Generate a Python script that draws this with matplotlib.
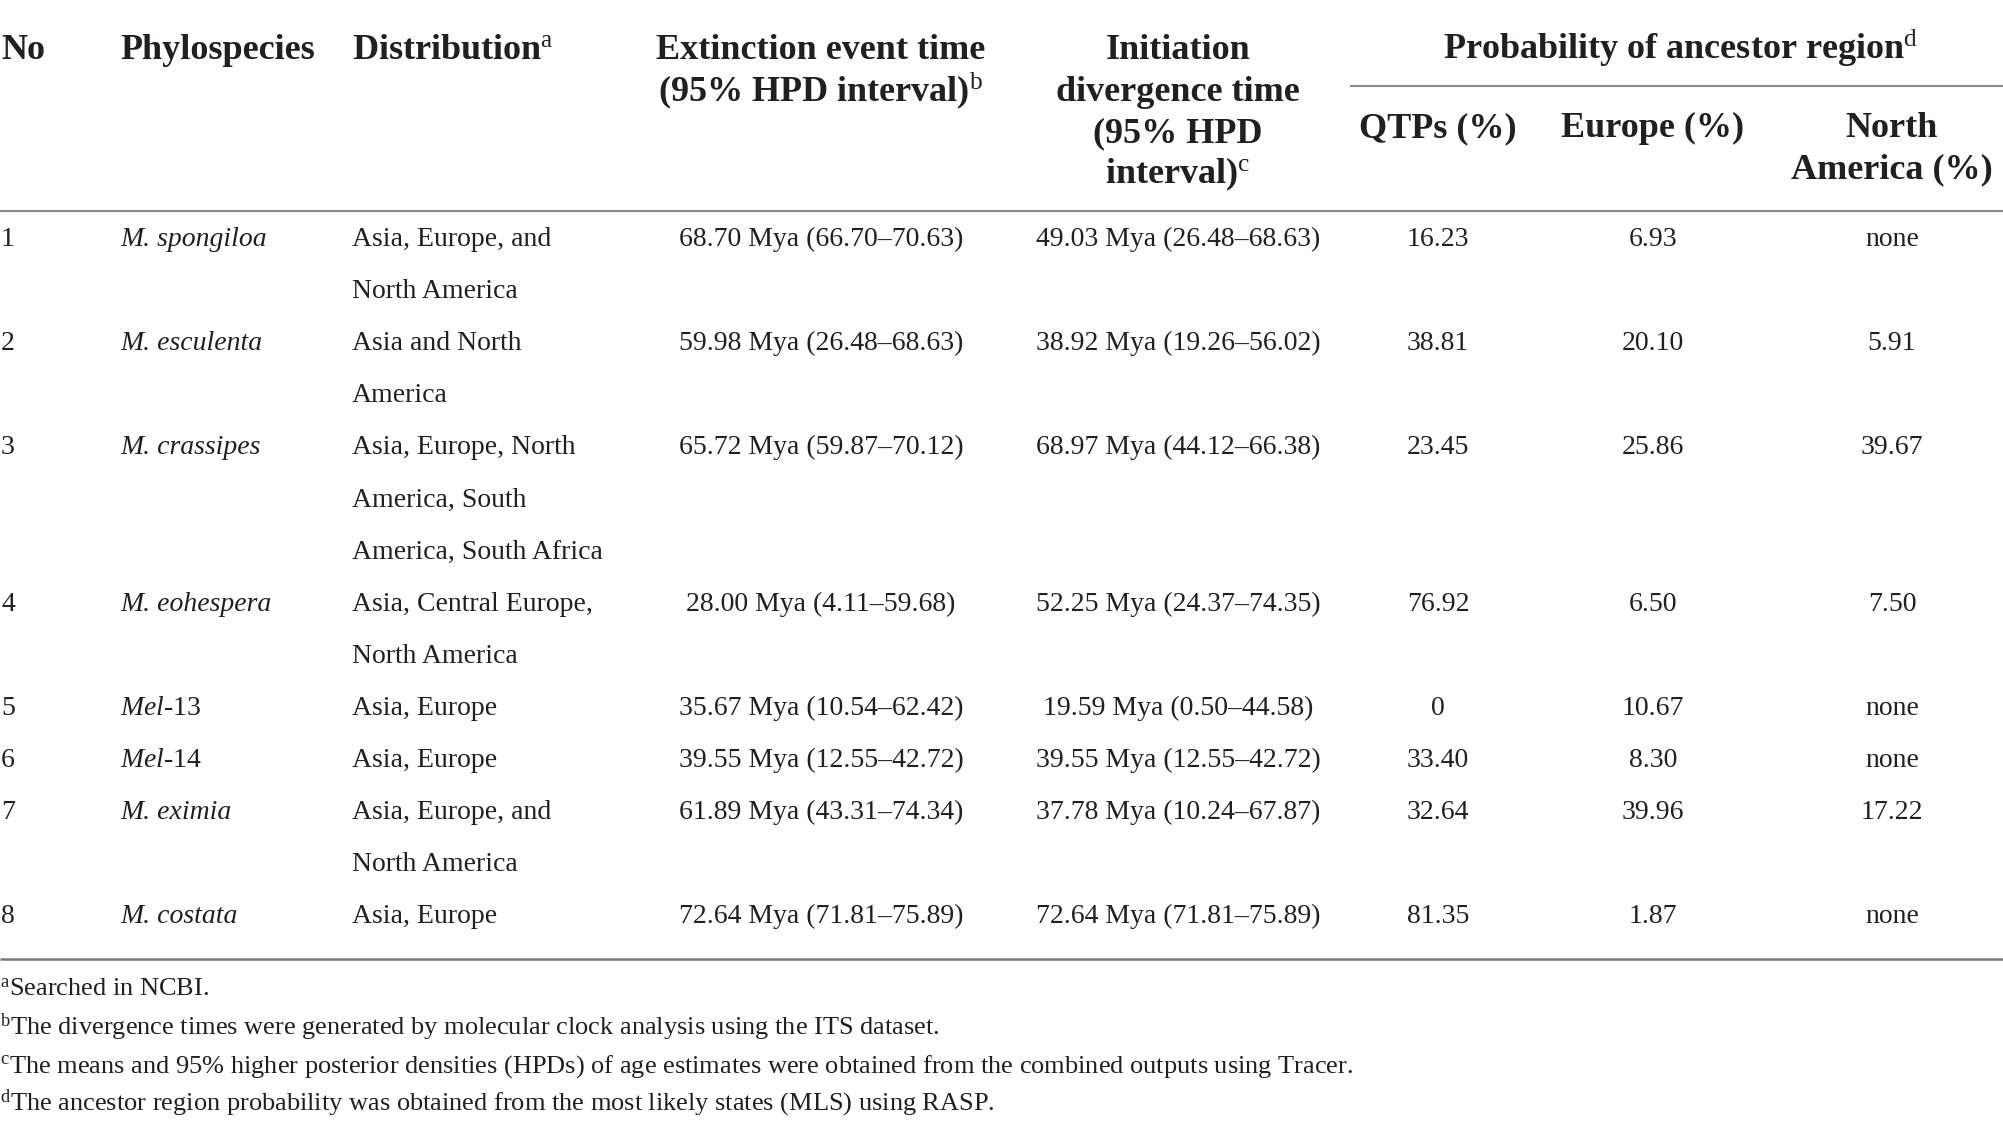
import matplotlib
matplotlib.use("Agg")
import matplotlib.pyplot as plt

plt.rcParams['font.family'] = ['Liberation Serif', 'DejaVu Serif']
plt.rcParams['mathtext.fontset'] = 'custom'
plt.rcParams['mathtext.rm'] = 'Liberation Serif'
plt.rcParams['mathtext.it'] = 'Liberation Serif:italic'
plt.rcParams['mathtext.bf'] = 'Liberation Serif:bold'

# ---- data ----
nos = ["1", "2", "3", "4", "5", "6", "7", "8"]
species = ["M. spongiloa", "M. esculenta", "M. crassipes", "M. eohespera",
           r"$\mathit{Mel}$-13", r"$\mathit{Mel}$-14", "M. eximia", "M. costata"]
species_italic = [True, True, True, True, False, False, True, True]
distribution = [
    ["Asia, Europe, and", "North America"],
    ["Asia and North", "America"],
    ["Asia, Europe, North", "America, South", "America, South Africa"],
    ["Asia, Central Europe,", "North America"],
    ["Asia, Europe"],
    ["Asia, Europe"],
    ["Asia, Europe, and", "North America"],
    ["Asia, Europe"],
]
extinction = ["68.70 Mya (66.70\u201370.63)", "59.98 Mya (26.48\u201368.63)",
              "65.72 Mya (59.87\u201370.12)", "28.00 Mya (4.11\u201359.68)",
              "35.67 Mya (10.54\u201362.42)", "39.55 Mya (12.55\u201342.72)",
              "61.89 Mya (43.31\u201374.34)", "72.64 Mya (71.81\u201375.89)"]
initiation = ["49.03 Mya (26.48\u201368.63)", "38.92 Mya (19.26\u201356.02)",
              "68.97 Mya (44.12\u201366.38)", "52.25 Mya (24.37\u201374.35)",
              "19.59 Mya (0.50\u201344.58)", "39.55 Mya (12.55\u201342.72)",
              "37.78 Mya (10.24\u201367.87)", "72.64 Mya (71.81\u201375.89)"]
qtps = ["16.23", "38.81", "23.45", "76.92", "0", "33.40", "32.64", "81.35"]
europe = ["6.93", "20.10", "25.86", "6.50", "10.67", "8.30", "39.96", "1.87"]
north_america = ["none", "5.91", "39.67", "7.50", "none", "none", "17.22", "none"]

footnotes = [
    (r"a", "Searched in NCBI."),
    (r"b", "The divergence times were generated by molecular clock analysis using the ITS dataset."),
    (r"c", "The means and 95% higher posterior densities (HPDs) of age estimates were obtained from the combined outputs using Tracer."),
    (r"d", "The ancestor region probability was obtained from the most likely states (MLS) using RASP."),
]

# ---- layout ----
W, H = 2003, 1128
fig = plt.figure(figsize=(W / 100, H / 100), dpi=100)
ax = fig.add_axes([0, 0, 1, 1])
ax.set_xlim(0, W)
ax.set_ylim(H, 0)
ax.axis('off')

TXT = '#231f20'
LINE = '#8a8a8a'
HFS = 26
BFS = 20
FFS = 19

x_no, x_sp, x_dist = 1, 120, 352
x_ext, x_ini, x_q, x_eu, x_na = 821, 1178, 1438, 1653, 1892
x_prob = 1681

def ht(x, y, s, ha='left'):
    ax.text(x, y, s, fontsize=HFS, fontweight='bold', color=TXT, ha=ha, va='baseline')

hb = [59, 101, 142, 183]
ht(x_no, hb[0], "No")
ht(x_sp, hb[0], "Phylospecies")
ht(x_dist, hb[0], r"Distribution$^{\mathrm{a}}$")
ht(x_ext, hb[0], "Extinction event time", 'center')
ht(x_ext, hb[1], r"(95% HPD interval)$^{\mathrm{b}}$", 'center')
ht(x_ini, hb[0], "Initiation", 'center')
ht(x_ini, hb[1], "divergence time", 'center')
ht(x_ini, hb[2], "(95% HPD", 'center')
ht(x_ini, hb[3], r"interval)$^{\mathrm{c}}$", 'center')
ht(x_prob, hb[0], r"Probability of ancestor region$^{\mathrm{d}}$", 'center')
ht(x_q, 137, "QTPs (%)", 'center')
ht(x_eu, 137, "Europe (%)", 'center')
ht(x_na, 137, "North", 'center')
ht(x_na, 178, "America (%)", 'center')

# rules
ax.plot([1350, W], [86, 86], color=LINE, lw=1.5, solid_capstyle='butt')
ax.plot([0, W], [211, 211], color=LINE, lw=1.6, solid_capstyle='butt')
ax.plot([0, W], [959, 959], color='#7a7a7a', lw=1.8, solid_capstyle='butt')

# body
B0, P = 246, 52.1
k = 0
for i in range(len(nos)):
    y = B0 + k * P
    kw = dict(fontsize=BFS, color=TXT, va='baseline')
    ax.text(x_no, y, nos[i], ha='left', **kw)
    ax.text(x_sp, y, species[i], ha='left',
            style='italic' if species_italic[i] else 'normal', **kw)
    for j, line in enumerate(distribution[i]):
        ax.text(x_dist, y + j * P, line, ha='left', **kw)
    ax.text(x_ext, y, extinction[i], ha='center', **kw)
    ax.text(x_ini, y, initiation[i], ha='center', **kw)
    ax.text(x_q, y, qtps[i], ha='center', **kw)
    ax.text(x_eu, y, europe[i], ha='center', **kw)
    ax.text(x_na, y, north_america[i], ha='center', **kw)
    k += len(distribution[i])

# footnotes
fb = [996, 1035, 1073, 1110]
for (sup, txt), y in zip(footnotes, fb):
    ax.text(0, y, r"$^{\mathrm{%s}}$" % sup + txt,
            fontsize=FFS, color=TXT, ha='left', va='baseline')

fig.savefig('out.png', dpi=100, facecolor='white')
